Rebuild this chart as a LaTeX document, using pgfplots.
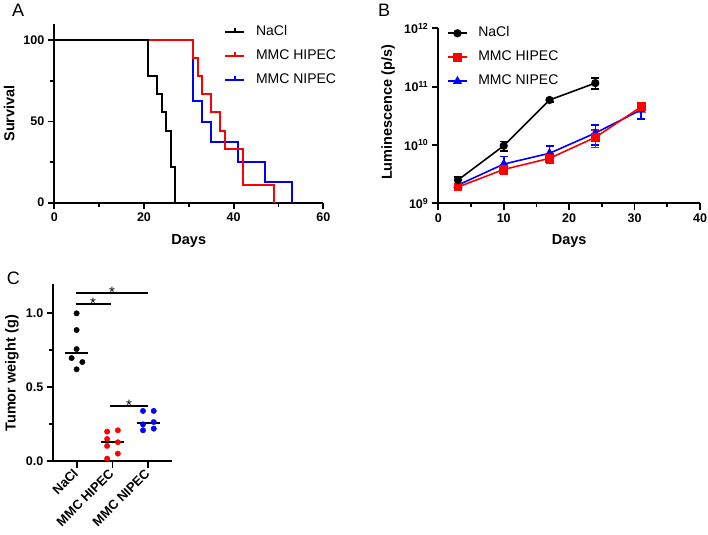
\documentclass[border=0pt]{standalone}
\usepackage{fontspec}
\setmainfont{Liberation Sans}
\usepackage{pgfplots}
\pgfplotsset{compat=1.18}

\definecolor{hipec}{RGB}{255,0,0}
\definecolor{nipec}{RGB}{0,0,255}

\pgfplotsset{
  panel/.style={
    scale only axis,
    anchor=south west,
    axis x line*=bottom, axis y line*=left,
    axis line style={line width=1.9bp, -},
    tick align=outside,
    major tick length=6.5bp, minor tick length=4bp,
    major tick style={line width=1.8bp, black},
    minor tick style={line width=1.8bp, black},
    tick label style={font=\fontsize{12.5bp}{15bp}\selectfont\bfseries},
    label style={font=\fontsize{14.5bp}{17bp}\selectfont\bfseries},
    /pgf/number format/assume math mode=true,
  },
  keylegend/.style={
    legend cell align=left,
    legend style={draw=none, fill=none, inner sep=0pt, outer sep=0pt,
      anchor=north west,
      font=\fontsize{14bp}{16bp}\selectfont,
      row sep=11bp,
      nodes={inner sep=0pt, text height=10bp, text depth=3bp},
      /tikz/every odd column/.append style={column sep=10.7bp}},
  },
}

\begin{document}
\begin{tikzpicture}
\path[use as bounding box] (0,0) rectangle (708bp,535bp);

% ---------------- A: survival ----------------
\begin{axis}[panel, keylegend,
  at={(54.3bp,332.3bp)}, width=269bp, height=178.6bp,
  xmin=0, xmax=60, ymin=0, ymax=110,
  xtick={0,20,40,60}, minor xtick={10,30,50},
  ytick={0,50,100}, minor ytick={25,75},
  xlabel={Days}, ylabel={Survival},
  xlabel style={at={(axis description cs:0.5,-0.215)}, anchor=center},
  ylabel style={at={(axis description cs:-0.168,0.5)}, anchor=center},
  legend style={at={(axis description cs:0.632,0.994)}},
  legend image code/.code={
    \draw[#1, line width=2bp] (0bp,0bp) -- (19bp,0bp);
    \draw[#1, line width=1.6bp] (9.5bp,0bp) -- (9.5bp,4bp);},
  reverse legend,
]
\addplot[nipec, line width=2bp, const plot] coordinates {
  (0,100) (31,62.5) (33,50) (35,37.5) (41,25) (47,12.5) (53,0)};
\addplot[hipec, line width=2bp, const plot] coordinates {
  (0,100) (31,88.9) (32,77.8) (33,66.7) (35,55.6) (37,44.4) (38,33.3) (42,11.1) (49,0)};
\addplot[black, line width=2bp, const plot] coordinates {
  (0,100) (21,77.8) (23,66.7) (24,55.6) (25,44.4) (26,22.2) (27,0)};
\legend{MMC NIPEC, MMC HIPEC, NaCl}
\end{axis}

% ---------------- B: luminescence ----------------
\begin{axis}[panel, keylegend,
  at={(438.3bp,331.7bp)}, width=261.7bp, height=175bp,
  ymode=log,
  xmin=0, xmax=40, ymin=1e9, ymax=1e12,
  xtick={0,10,20,30,40}, minor xtick={5,15,25,35},
  ytick={1e9,1e10,1e11,1e12},
  yticklabels={10\textsuperscript{9},10\textsuperscript{10},10\textsuperscript{11},10\textsuperscript{12}},
  minor y tick style={draw=none},
  xlabel={Days}, ylabel={Luminescence (p/s)},
  xlabel style={at={(axis description cs:0.5,-0.215)}, anchor=center},
  ylabel style={at={(axis description cs:-0.192,0.52)}, anchor=center},
  legend style={at={(axis description cs:0.0344,1.0086)}},
  legend image code/.code={
    \draw[mark repeat=2, mark phase=2, #1] plot coordinates {(0bp,0bp) (9.35bp,0bp) (18.7bp,0bp)};},
  reverse legend,
  every axis plot/.append style={line width=1.6bp},
]
\addplot[nipec, mark=triangle*, mark size=3.8bp, mark options={solid, fill=nipec},
  error bars/.cd, y dir=both, y explicit,
  error bar style={line width=1.6bp},
  error mark options={rotate=90, mark size=4bp, line width=1.6bp}]
  coordinates {
  (3,2.05e9) +- (0,0.1e9)
  (10,4.7e9) +- (0,1.6e9)
  (17,7.2e9) +- (0,2.4e9)
  (24,1.6e10) +- (0,6e9)
  (31,4.0e10) +- (0,1.2e10)};
\addplot[hipec, mark=square*, mark size=3.6bp, mark options={solid, fill=hipec},
  error bars/.cd, y dir=both, y explicit,
  error bar style={line width=1.6bp},
  error mark options={rotate=90, mark size=4bp, line width=1.6bp}]
  coordinates {
  (3,1.9e9) +- (0,0.15e9)
  (10,3.8e9) +- (0,0.7e9)
  (17,5.9e9) +- (0,1.1e9)
  (24,1.35e10) +- (0,4.5e9)
  (31,4.5e10) +- (0,0.5e10)};
\addplot[black, mark=*, mark size=3.3bp, mark options={solid, fill=black},
  error bars/.cd, y dir=both, y explicit,
  error bar style={line width=1.6bp},
  error mark options={rotate=90, mark size=4bp, line width=1.6bp}]
  coordinates {
  (3,2.5e9) +- (0,0.3e9)
  (10,9.7e9) +- (0,1.8e9)
  (17,5.9e10) +- (0,0.4e10)
  (24,1.15e11) +- (0,2.5e10)};
\legend{MMC NIPEC, MMC HIPEC, NaCl}
\end{axis}

% ---------------- C: tumor weight ----------------
\begin{axis}[panel,
  at={(53.3bp,74bp)}, width=118.4bp, height=177.2bp,
  xmin=-0.65, xmax=2.65, ymin=0, ymax=1.2,
  xtick={0,1,2}, xticklabels={NaCl, MMC HIPEC, MMC NIPEC},
  xticklabel style={rotate=45, anchor=east, yshift=-2bp, font=\fontsize{13bp}{15bp}\selectfont\bfseries},
  ytick={0,0.5,1}, minor ytick={0.25,0.75},
  yticklabel style={/pgf/number format/fixed, /pgf/number format/fixed zerofill,
    /pgf/number format/precision=1},
  ylabel={Tumor weight (g)},
  ylabel style={at={(axis description cs:-0.349,0.495)}, anchor=center},
  clip=false,
]
% individual animals
\addplot[only marks, mark=*, mark size=2.7bp, black] coordinates {
  (0,1.0) (0,0.887) (0,0.758) (-0.14,0.697) (0.16,0.670) (0,0.621)};
\addplot[only marks, mark=*, mark size=2.7bp, hipec] coordinates {
  (0.85,0.199) (1.15,0.208) (0.85,0.149) (0.85,0.102) (1.15,0.127) (0.85,0.016) (1.15,0.05)};
\addplot[only marks, mark=*, mark size=2.7bp, nipec] coordinates {
  (1.85,0.339) (2.15,0.339) (1.85,0.248) (2.15,0.264) (1.85,0.208) (2.15,0.219)};
% medians
\addplot[black, line width=1.9bp] coordinates {(-0.32,0.729) (0.32,0.729)};
\addplot[black, line width=1.9bp] coordinates {(0.68,0.127) (1.32,0.127)};
\addplot[black, line width=1.9bp] coordinates {(1.68,0.256) (2.32,0.256)};
% significance brackets
\addplot[black, line width=1.8bp] coordinates {(-0.03,1.135) (2.0,1.135)};
\addplot[black, line width=1.8bp] coordinates {(-0.03,1.061) (0.95,1.061)};
\addplot[black, line width=1.8bp] coordinates {(0.93,0.372) (1.99,0.372)};
\node[font=\fontsize{15bp}{17bp}\selectfont, anchor=base, yshift=-4.5bp, inner sep=0pt] at (axis cs:0.985,1.135) {*};
\node[font=\fontsize{15bp}{17bp}\selectfont, anchor=base, yshift=-4.5bp, inner sep=0pt] at (axis cs:0.46,1.061) {*};
\node[font=\fontsize{15bp}{17bp}\selectfont, anchor=base, yshift=-4.5bp, inner sep=0pt] at (axis cs:1.46,0.372) {*};
\end{axis}

% panel letters
\node[anchor=base west, inner sep=0pt, font=\fontsize{18bp}{20bp}\selectfont] at (12bp,518bp) {A};
\node[anchor=base west, inner sep=0pt, font=\fontsize{18bp}{20bp}\selectfont] at (378bp,518bp) {B};
\node[anchor=base west, inner sep=0pt, font=\fontsize{18bp}{20bp}\selectfont] at (6.7bp,250bp) {C};
\end{tikzpicture}
\end{document}
